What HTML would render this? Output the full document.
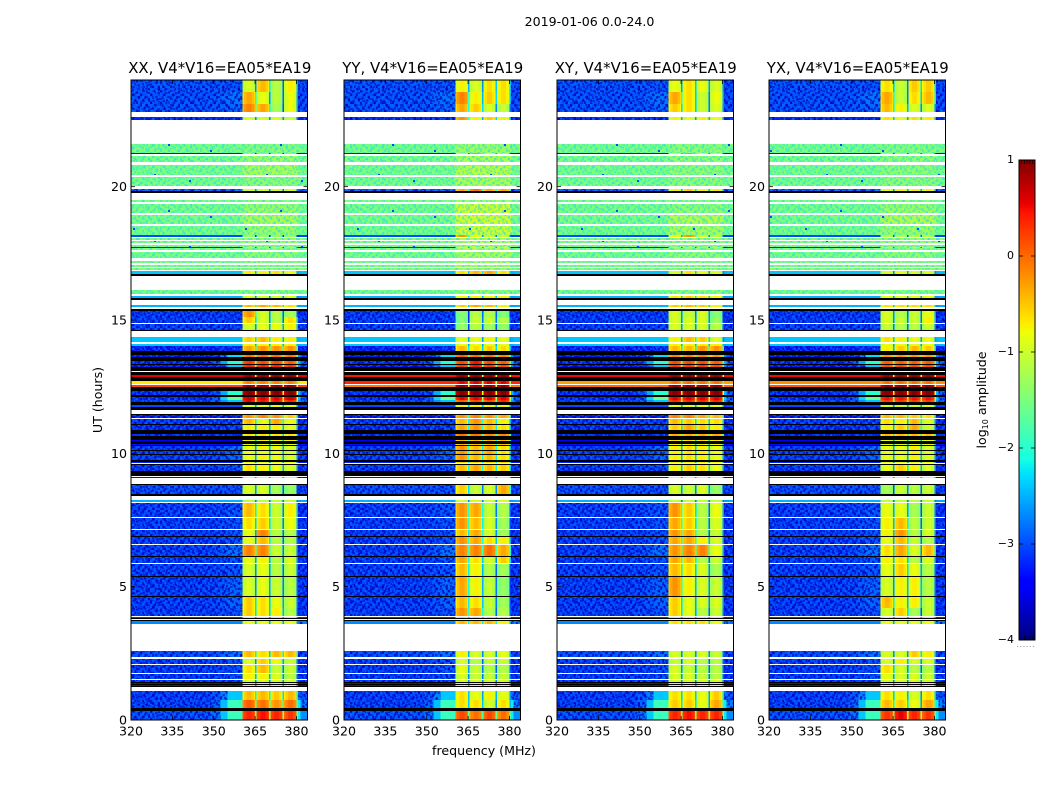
<!DOCTYPE html>
<html lang="en">
<head>
<meta charset="utf-8">
<title>2019-01-06 0.0-24.0</title>
<style>
html,body{margin:0;padding:0;background:#fff;}
svg{display:block;}
text{font-family:"DejaVu Sans","Liberation Sans",sans-serif;fill:#000;}
</style>
</head>
<body>
<svg id="figure" xmlns="http://www.w3.org/2000/svg" width="1050" height="800" viewBox="0 0 1050 800">
  <rect x="0" y="0" width="1050" height="800" fill="#fff"/>
  <defs id="defs"></defs>
  <text x="589.5" y="26" font-size="12.6" text-anchor="middle">2019-01-06 0.0-24.0</text>
  <text x="484" y="755" font-size="12.6" text-anchor="middle">frequency (MHz)</text>
  <text transform="translate(102,400) rotate(-90)" font-size="12.6" text-anchor="middle">UT (hours)</text>
  <text transform="translate(986,400) rotate(-90)" font-size="12.6" text-anchor="middle">log<tspan font-size="8" dy="2">10</tspan><tspan dy="-2"> amplitude</tspan></text>
</svg>
<script>
// ---------- chart data (hours UT, MHz, log10 amplitude) ----------
const panelTitles = ["XX, V4*V16=EA05*EA19","YY, V4*V16=EA05*EA19","XY, V4*V16=EA05*EA19","YX, V4*V16=EA05*EA19"];
const xTickValues = [320,335,350,365,380];
const yTickValues = [0,5,10,15,20];
const colorTickValues = [1,0,-1,-2,-3,-4];
const colorTickLabels = ["1","0","\u22121","\u22122","\u22123","\u22124"];

// spectral windows and per-window shape
const windowStarts = [360.5,365.5,370.5,375.5];
const windowBinEdges = [0,0.45,1.4,3.2,4.1,4.5,5];
const windowBinLevels = [-0.2,-0.05,0.08,-0.05,-0.2,-1.7];

// flagged (black) time ranges
const maskedHi = [19.84,16.73,15.83,15.40,14.63,13.84,13.60,13.35,13.23,13.05,
  12.87,12.50,12.18,11.93,11.75,11.46,11.10,10.88,10.65,10.45,
  10.31,10.13,9.98,9.75,9.60,9.34,8.85,8.49,6.90,6.15,
  5.40,4.65,3.81,3.74,1.43,1.35,1.28,0.45];
const maskedLo = [19.76,16.65,15.75,15.35,14.59,13.69,13.47,13.30,13.10,12.95,
  12.72,12.35,12.10,11.80,11.63,11.43,11.05,10.73,10.50,10.35,
  10.28,10.09,9.93,9.69,9.55,9.15,8.81,8.40,6.86,6.11,
  5.36,4.61,3.78,3.70,1.39,1.31,1.24,0.35];

// noisy green time ranges
const noisyHi = [21.60,21.16,20.81,20.36,19.50,19.35,18.94,18.53,18.08,17.96,17.82,17.70,17.55,17.22,17.06,16.94,16.13];
const noisyLo = [21.25,20.91,20.44,20.03,19.43,19.02,18.59,18.17,18.00,17.88,17.75,17.63,17.33,17.13,17.00,16.86,15.98];
const noisyOff = [-1.6,-1.6,-1.6,-1.6,-1.55,-1.6,-1.6,-1.6,-1.55,-1.55,-1.55,-1.55,-1.6,-1.55,-1.55,-1.45,-1.6];
const noisyInXX = [-1.5,-1.35,-1.25,-1.45,-1.5,-1.35,-1.25,-1.35,-1.45,-1.45,-1.45,-1.45,-1.45,-1.45,-1.45,-1.45,-1.5];
const noisyInYY = [-1.35,-1.25,-1.15,-1.25,-1.35,-1.0,-0.95,-1.0,-1.25,-1.25,-1.25,-1.15,-1.25,-1.25,-1.25,-1.35,-1.45];
const noisyInXY = [-1.45,-1.45,-1.45,-1.45,-1.5,-1.45,-1.2,-1.25,-1.45,-1.45,-1.45,-1.45,-1.45,-1.45,-1.45,-1.45,-1.5];
const noisyInYX = [-1.5,-1.45,-1.45,-1.45,-1.5,-1.35,-1.2,-1.35,-1.45,-1.45,-1.45,-1.45,-1.45,-1.45,-1.45,-1.45,-1.5];

// science time ranges
const sciHi = [24.00,23.55,23.10,22.63,21.25,19.91,18.17,17.75,16.84,15.90,
  15.57,15.35,15.13,14.85,14.35,14.10,14.04,13.69,13.47,13.30,
  12.95,12.72,12.55,12.35,12.10,12.00,11.80,11.43,11.28,11.05,
  10.73,10.50,10.35,10.28,10.09,9.93,9.69,9.55,9.11,8.81,
  8.25,8.12,7.59,7.13,6.86,6.56,6.11,5.86,5.36,4.61,
  4.20,3.86,3.70,2.59,2.30,2.06,1.73,1.49,1.39,1.31,
  1.09,0.75,0.35];
const sciLo = [23.55,23.10,22.80,22.50,21.21,19.84,18.13,17.70,16.73,15.83,
  15.47,15.13,14.90,14.63,14.16,14.04,13.84,13.60,13.35,13.23,
  12.87,12.60,12.50,12.18,12.00,11.93,11.75,11.31,11.10,10.88,
  10.65,10.45,10.31,10.13,9.98,9.75,9.65,9.34,9.08,8.49,
  8.18,7.62,7.15,6.90,6.60,6.15,5.90,5.40,4.65,4.20,
  3.90,3.81,3.59,2.37,2.11,1.76,1.54,1.43,1.35,1.28,
  0.75,0.45,0.00];
const sciOff = [-3.0,-3.0,-3.0,-3.2,-3.3,-2.8,-3.0,-3.2,-2.4,-2.5,
  -2.5,-3.1,-3.1,-3.1,-2.4,-2.4,-3.3,-3.3,-3.2,-3.3,
  0.55,-0.7,0.2,-3.2,-3.2,-3.0,-3.0,-3.3,-3.1,-3.2,
  -3.2,-3.4,-3.3,-3.1,-3.1,-3.1,-3.2,-3.1,-3.3,-3.0,
  -2.5,-3.1,-3.1,-3.1,-3.1,-3.1,-3.1,-3.1,-3.1,-3.1,
  -3.1,-3.1,-2.7,-3.0,-3.1,-3.1,-3.1,-3.1,-3.3,-3.3,
  -3.1,-3.1,-3.0];
const sciRamp = [-3.0,-2.8,-2.9,-3.2,-3.3,-2.8,-3.0,-3.2,-2.4,-2.5,
  -2.5,-3.1,-3.1,-3.1,-2.4,-2.4,-3.2,-2.3,-2.0,-2.4,
  0.55,-0.7,0.2,-2.0,-1.6,-2.4,-3.0,-3.3,-3.1,-3.1,
  -3.2,-3.4,-3.3,-2.8,-2.9,-2.9,-3.2,-3.0,-3.3,-3.0,
  -2.5,-3.0,-3.0,-3.0,-3.0,-2.8,-3.0,-3.0,-2.9,-2.9,
  -3.0,-3.1,-2.7,-2.8,-3.0,-3.0,-3.0,-3.1,-3.3,-3.3,
  -2.4,-1.9,-1.9];
const sciRight = [-3.1,-3.1,-3.1,-3.3,-3.4,-2.9,-3.1,-3.3,-2.5,-2.6,
  -2.6,-3.2,-3.2,-3.2,-2.5,-2.5,-3.3,-2.7,-2.5,-2.7,
  0.55,-0.7,0.2,-2.5,-2.4,-2.6,-3.1,-3.3,-3.2,-3.3,
  -3.3,-3.5,-3.4,-3.2,-3.2,-3.2,-3.3,-3.2,-3.4,-3.1,
  -2.6,-3.2,-3.2,-3.2,-3.2,-3.2,-3.2,-3.2,-3.2,-3.2,
  -3.2,-3.2,-2.8,-3.1,-3.2,-3.2,-3.2,-3.2,-3.4,-3.4,
  -2.8,-2.2,-2.2];

// window levels per science row; an optional 5th value overrides the off-band level
const windowsXX = [
 [-1,-.5,-1.2,-.8],[-.4,-.9,-1.2,-.9],[-.2,-.4,-1.3,-.9],[-1,-1,-1,-1.1],[-1.5,-1.5,-1.5,-1.5],
 [-1,-1,-1,-1],[-1.4,-1.4,-1.4,-1.4],[-1.2,-1.2,-1.2,-1.2],[-.8,-.8,-.7,-.9],[-1,-1,-1,-1],
 [-.5,-.4,-.5,-.7],[-.3,-1,-1.2,-1.3],[-.6,-1,-1.2,-.7],[-1,-.9,-.9,-.8],[-.6,-.5,-.8,-.8],
 [-.8,-.8,-.8,-.8],[-.4,-.3,-.3,-.3],[-.1,-.1,-.1,-.1],[.2,.1,.1,0],[.3,.3,.3,.2],
 [.85,.85,.85,.85],[-.2,-.2,-.2,-.2,-.7],[.85,.85,.85,.85],[.9,.9,.9,.9],[.6,.5,.5,.6],
 [.5,.4,.4,.3],[-.9,-.9,-.9,-.9],[-.3,-.2,-.3,-.6],[-.5,-.9,-.4,-.9],[-.8,-.8,-.8,-.9],
 [-.7,-.7,-.7,-.7],[-.8,-.8,-.8,-.8],[-.9,-.9,-.9,-.9],[-.9,-.8,-.9,-1],[-.9,-.9,-.9,-1],
 [-.9,-.8,-.9,-1],[-.9,-.9,-.9,-.9],[-.7,-.8,-.9,-1],[-.9,-.9,-.9,-.9],[-1,-1,-1.3,-1.4],
 [-1.1,-1.1,-1.1,-1.1],[-.5,-.7,-1.1,-.8],[-.7,-.6,-1.1,-.9],[-.9,-.2,-1.2,-1.2],[-.9,-.5,-1.2,-1.2],
 [-.2,-.2,-1.1,-1.1],[-.9,-.8,-1.2,-1],[-1,-.9,-1.2,-1.1],[-1,-.9,-1.1,-1.2],[-.6,-.7,-.9,-1.1],
 [-.6,-.7,-.8,-1.2],[-.9,-.9,-.9,-.9],[-.9,-.9,-.9,-.9],[-.5,-.7,-.5,-.5],[-1,-.6,-.9,-1.1],
 [-.7,-.5,-1.1,-1.1],[-.8,-.8,-1,-1.2],[-1,-1,-1,-1],[-.9,-.9,-.9,-.9],[-.9,-.9,-.9,-.9],
 [-.5,-.5,-.6,-.5],[0,-.1,-.3,-.1],[.3,.4,.3,.2]];
const windowsYY = [
 [-.8,-1,-.7,-.7],[-.2,-.8,-.6,-.7],[-.4,-.6,-1,-1.1],[-.3,-.8,-.6,-.8],[-1.2,-.3,-.9,-1.2],
 [-.4,-.1,-.4,-.4],[-.3,-.9,-1.1,-1.1],[-.9,-.9,-.9,-.9],[-.7,-.5,-.4,-.7],[-.8,-.8,-.8,-.8],
 [-.6,-.4,-.5,-.8],[-1.5,-1.2,-1.2,-1.5],[-1.5,-1.1,-1.1,-1.2],[-1.4,-1.2,-1.3,-1.4],[-.9,-.9,-.8,-.9],
 [-.9,-.9,-.9,-.9],[-.5,-.7,-.6,-.7],[0,-.1,-.1,-.2],[.1,.4,.1,0],[.2,.4,.2,.1],
 [.85,.85,.85,.85,.45],[.5,.5,.5,.5,.35],[.85,.85,.85,.85,-.1],[.9,.9,.9,.9],[.5,.5,.5,.5],
 [0,.1,.1,.3],[-.8,-.8,-.8,-.8],[-.3,-.2,-.3,-.4],[-.5,-.3,-.5,-.8],[-.4,-.3,-.5,-.7],
 [-.1,-.1,-.2,-.2],[-.5,-.5,-.5,-.5],[-.5,-.5,-.5,-.5],[-.3,-.5,-.4,-.7],[-.3,-.5,-.4,-.7],
 [-.3,-.5,-.5,-.7],[-.6,-.6,-.6,-.6],[-.5,-.4,-.5,-.6],[-.8,-.8,-.8,-.8],[-.6,-1.1,-1,-.4],
 [-1,-1,-1,-1],[-.3,-.4,-1.1,-1.2],[-.3,-.5,-1,-1.3],[-.5,-.4,-1,-1.3],[-.3,-.4,-.7,-.8],
 [-.2,-.2,-.1,-.4],[-.4,-.7,-1,-.6],[-.5,-.8,-1.2,-1.3],[-.4,-.8,-1.1,-1.4],[-.5,-.7,-1.1,-1.3],
 [-.3,-.4,-1.2,-1.2],[-.7,-.7,-.7,-.7],[-.5,-.5,-.5,-.8],[-.8,-1,-1,-.9],[-1,-1.2,-1.1,-1.1],
 [-.9,-1.1,-1.2,-1.2],[-1,-1.1,-1.1,-1.1],[-1,-1,-1,-1],[-.9,-.9,-.9,-.9],[-.9,-.9,-.9,-.9],
 [-.7,-.9,-.8,-.9],[-.7,-.7,-1,-.7],[.1,-.1,.1,-.1]];
const windowsXY = [
 [-.9,-.7,-.9,-1],[-.4,-.7,-1.1,-.9],[-.6,-.7,-1.1,-1],[-.8,-.9,-.8,-.9],[-.8,-.3,-1,-1.2],
 [-.8,-.6,-.8,-.8],[-.8,-.3,-1,-1.2],[-1.2,-1.2,-1.2,-1.2],[-1,-.7,-.9,-1],[-.7,-.6,-.7,-.8],
 [-.6,-.5,-.6,-.8],[-1,-1.1,-1,-1.5],[-1,-1,-1,-1.4],[-1,-1,-1,-1.2],[-.8,-.5,-.6,-1],
 [-.8,-.8,-.8,-.8],[-.5,-.5,-.3,-.3],[-.2,-.2,-.2,-.3],[.1,.1,.1,0],[.2,.2,.2,.1],
 [.85,.85,.85,.85,.5],[-.1,-.1,-.1,-.1,-.3],[.85,.85,.85,.85,0],[.9,.9,.9,.9],[.5,.5,.5,.5],
 [.3,.3,.3,.3],[-.9,-.9,-.9,-.9],[-.2,-.2,-.4,-.5],[-.5,-.6,-.7,-.7],[-.6,-.4,-.6,-.8],
 [-.4,-.4,-.4,-.4],[-.7,-.7,-.7,-.7],[-.8,-.8,-.8,-.8],[-.8,-.7,-.8,-.9],[-.8,-.7,-.8,-.9],
 [-.8,-.7,-.8,-.9],[-.8,-.8,-.8,-.8],[-.8,-.6,-.7,-.9],[-.9,-.9,-.9,-.9],[-1,-1.1,-1,-1.4],
 [-1.1,-1.1,-1.1,-1.1],[-.3,-.6,-1.2,-.9],[-.4,-.6,-1.2,-1],[-.3,-.4,-1.2,-1.1],[-.4,-.4,-.8,-1],
 [-.3,-.2,-.2,-.9],[-.4,-.5,-1.2,-1.1],[-.5,-.7,-1,-1.3],[-.3,-.8,-1,-1.1],[-.6,-.9,-1,-1],
 [-.6,-.9,-1.2,-1.1],[-.8,-.8,-.8,-.8],[-.7,-.7,-.7,-.9],[-1,-1,-1,-1.1],[-1.1,-1,-1.2,-1.2],
 [-1,-1.1,-1.2,-1.2],[-1,-1,-1.1,-1.2],[-1,-1,-1,-1],[-.9,-.9,-.9,-.9],[-.9,-.9,-.9,-.9],
 [-.7,-.7,-.9,-.6],[-.6,-.6,-.9,-.4],[.3,.4,.3,.3]];
const windowsYX = [
 [-.7,-1.1,-.6,-.6],[-.4,-1.1,-.7,-.5],[-.5,-.8,-1,-1],[-.7,-.9,-.7,-.8],[-1.3,-1.3,-1.3,-1.3],
 [-.9,-.8,-.8,-.8],[-1.2,-1.2,-1.2,-1.2],[-1.1,-.6,-1.1,-1.1],[-1,-.9,-1,-1],[-.9,-.9,-.9,-.9],
 [-.7,-.7,-.7,-.7],[-1,-1.2,-1.1,-.9],[-1,-1.1,-1.1,-.8],[-1.1,-1.2,-1.2,-1.1],[-.7,-.8,-.9,-.9],
 [-.9,-.9,-.9,-.9],[-.8,-.6,-.5,-.6],[-.3,-.3,-.3,-.3],[0,0,0,0],[.1,.1,.1,.1],
 [.85,.85,.85,.85,.5],[-.1,-.1,-.1,-.1,-.2],[.85,.85,.85,.85,.1],[.9,.9,.9,.9],[.4,.4,.4,.4],
 [.2,.2,.2,.2],[-1,-1,-1,-1],[-.5,-.5,-.6,-.7],[-.7,-.8,-.5,-1],[-.8,-.6,-.4,-1.1],
 [-.5,-.5,-.5,-.5],[-.9,-.9,-.9,-.9],[-.9,-.9,-.9,-.9],[-.9,-.9,-.8,-1],[-.9,-.9,-.8,-1],
 [-.9,-.9,-.8,-1],[-.9,-.9,-.9,-.9],[-.9,-.6,-.8,-1],[-.9,-.9,-.9,-.9],[-1.3,-1.1,-1.2,-1.1],
 [-1.1,-1.1,-1.1,-1.1],[-.9,-.9,-1.3,-1.1],[-.8,-.5,-1.2,-1.1],[-.8,-.3,-1.2,-1],[-.9,-.5,-1.1,-1.2],
 [-.7,-.4,-1,-.5],[-.8,-.7,-1.2,-1],[-.9,-.6,-.9,-1.2],[-1,-.8,-.8,-1.2],[-.5,-.8,-.8,-1.1],
 [-1,-.6,-1.3,-1.1],[-.9,-.9,-.9,-.9],[-.9,-.9,-.9,-.9],[-1,-1,-.6,-.8],[-1,-.8,-1,-1],
 [-.7,-1,-1.2,-1.2],[-.9,-1,-1,-1.1],[-1,-1,-1,-1],[-.9,-.9,-.9,-.9],[-.9,-.9,-.9,-.9],
 [-.7,-.8,-1,-.7],[-.5,-.6,-.9,-.4],[.2,.5,.3,.2]];

// fine pixel grain laid over noisy regions (-1 dim, 1 bright, 2 outlier), 16 columns by 11 rows
const grainTile = [
  0,1,-1,0,0,1,0,-1,1,0,-1,0,1,0,0,-1,
  -1,0,0,1,-1,0,1,0,0,-1,0,1,0,-1,1,0,
  1,0,-1,0,1,0,-1,0,2,0,1,-1,0,1,0,-1,
  0,-1,1,0,0,-1,0,1,-1,0,0,1,-1,0,2,1,
  0,1,0,-1,1,0,0,-1,0,1,-1,0,0,1,-1,0,
  -1,0,1,2,-1,1,0,0,1,0,0,-1,1,0,0,-1,
  1,-1,0,0,1,0,-1,1,0,-1,1,0,0,-1,1,0,
  0,0,-1,1,0,-1,2,0,-1,0,0,1,-1,0,0,1,
  -1,1,0,0,-1,0,1,0,0,1,-1,2,1,0,-1,0,
  0,0,1,-1,0,1,0,-1,1,0,0,-1,0,1,0,1,
  1,-1,0,1,0,-1,0,1,0,-1,1,0,-1,0,1,-1];

// ---------- layout ----------
const svg = document.getElementById('figure');
const defs = document.getElementById('defs');
const NS = 'http://www.w3.org/2000/svg';
const panelLefts = [131,344,557,769];
const panelWidth = 176.5;
const plotTop = 80, plotBottom = 720;
const freqMin = 320, freqMax = 384;
const hourMin = 0, hourMax = 24;
const cbarLeft = 1019, cbarRight = 1035, cbarTop = 160, cbarBottom = 640;
const colorMin = -4, colorMax = 1;

function xScale(panel, f){ return panelLefts[panel] + (f - freqMin) / (freqMax - freqMin) * panelWidth; }
function yScale(h){ return plotBottom - (h - hourMin) / (hourMax - hourMin) * (plotBottom - plotTop); }
function cScale(v){ return cbarBottom - (v - colorMin) / (colorMax - colorMin) * (cbarBottom - cbarTop); }

function ramp(t, pts){
  for (let i = 1; i < pts.length; i++) {
    if (t <= pts[i][0]) {
      const a = pts[i-1], b = pts[i];
      return a[1] + (b[1]-a[1]) * (t-a[0]) / (b[0]-a[0]);
    }
  }
  return pts[pts.length-1][1];
}
const jetR = [[0,0],[0.35,0],[0.66,1],[0.89,1],[1,0.5]];
const jetG = [[0,0],[0.125,0],[0.375,1],[0.64,1],[0.91,0],[1,0]];
const jetB = [[0,0.5],[0.11,1],[0.34,1],[0.65,0],[1,0]];
function jet(v){
  const t = Math.max(0, Math.min(1, (v - colorMin) / (colorMax - colorMin)));
  return 'rgb(' + Math.round(ramp(t,jetR)*255) + ',' + Math.round(ramp(t,jetG)*255) + ',' + Math.round(ramp(t,jetB)*255) + ')';
}

function el(parent, tag, attrs){
  const e = document.createElementNS(NS, tag);
  for (const k in attrs) e.setAttribute(k, attrs[k]);
  parent.appendChild(e);
  return e;
}

// ---------- grain patterns ----------
function buildGrain(id, cellW, cellH, stepX, stepY, dim, bright, dot){
  const p = el(defs, 'pattern', {id:id, patternUnits:'userSpaceOnUse', width:16*stepX, height:11*stepY});
  
  
  grainTile.forEach(function(g, i){
    const c = i % 16, r = Math.floor(i / 16);
    const fill = g === -1 ? dim : (g === 1 ? bright : (g === 2 ? dot : null));
    if (!fill) return;
    const cell = el(p, 'rect', {x:c*stepX, y:r*stepY, width:cellW, height:cellH, fill:fill});
    
    
  });
}
buildGrain('grain-low-a', 2, 2.67, 2, 2.67, 'rgba(0,0,170,0.7)', 'rgba(0,110,255,0.5)', null);
buildGrain('grain-low-b', 2.5, 2, 2.5, 2, 'rgba(0,0,190,0.5)', 'rgba(0,130,255,0.35)', null);
buildGrain('grain-mid-a', 2, 2.67, 2, 2.67, 'rgba(40,225,215,0.5)', 'rgba(190,255,70,0.32)', null);
buildGrain('grain-mid-b', 2.5, 2, 2.5, 2, 'rgba(40,215,230,0.36)', 'rgba(190,255,70,0.24)', null);
buildGrain('grain-mid-dots', 2, 2, 7, 6, null, null, 'rgba(0,70,255,0.95)');

function addGrain(group, panel, f0, f1, hi, lo, ids){
  ids.forEach(function(id){
    const n = cell(group, panel, f0, f1, hi, lo, 'url(#' + id + ')');
    
    
  });
}

// ---------- panels ----------
const allWindows = [windowsXX, windowsYY, windowsXY, windowsYX];
const allNoisyIn = [noisyInXX, noisyInYY, noisyInXY, noisyInYX];
const panelKeys = ['xx','yy','xy','yx'];

function cell(group, panel, f0, f1, hi, lo, fill){
  const x0 = xScale(panel, f0), x1 = xScale(panel, f1);
  const y0 = Math.round(yScale(hi)), y1 = Math.round(yScale(lo));
  return el(group, 'rect', {x:x0.toFixed(2), y:y0, width:(x1-x0).toFixed(2), height:Math.max(1, y1-y0), fill:fill, 'shape-rendering':'crispEdges'});
}

panelTitles.forEach(function(title, p){
  const key = panelKeys[p];
  const left = panelLefts[p];
  const g = el(svg, 'g', {});
  
  

  const heat = el(g, 'g', {});
  
  

  // science rows
  sciHi.forEach(function(hi, i){
    const lo = sciLo[i];
    const win = allWindows[p][i];
    const hasOverride = win.length > 4;
    const off = hasOverride ? win[4] : sciOff[i];
    const rampLevel = hasOverride ? off : sciRamp[i];
    const right = hasOverride ? off : sciRight[i];
    const offCols = [
      [freqMin, 349, off],
      [349, 352.5, off + 0.15 * (rampLevel - off)],
      [352.5, 355, off + 0.55 * (rampLevel - off)],
      [355, windowStarts[0], rampLevel],
      [windowStarts[3] + 5, 381.5, right],
      [381.5, freqMax, right + 0.6 * (off - right)]
    ];
    offCols.forEach(function(c){
      const r = cell(heat, p, c[0], c[1], hi, lo, jet(c[2]));
      
      
      if (c[2] < -2.7 && yScale(lo) - yScale(hi) > 1.5) {
        addGrain(heat, p, c[0], c[1], hi, lo, ['grain-low-a','grain-low-b']);
      }
    });
    windowStarts.forEach(function(start, w){
      windowBinLevels.forEach(function(delta, b){
        const r = cell(heat, p, start + windowBinEdges[b], start + windowBinEdges[b+1], hi, lo, jet(win[w] + delta));
        
        
      });
    });
  });

  // noisy rows
  noisyHi.forEach(function(hi, i){
    const lo = noisyLo[i];
    const offA = cell(heat, p, freqMin, windowStarts[0], hi, lo, jet(noisyOff[i]));
    
    
    const inB = cell(heat, p, windowStarts[0], windowStarts[3] + 5, hi, lo, jet(allNoisyIn[p][i]));
    
    
    const offC = cell(heat, p, windowStarts[3] + 5, freqMax, hi, lo, jet(noisyOff[i]));
    
    
    addGrain(heat, p, freqMin, freqMax, hi, lo, ['grain-mid-a','grain-mid-b','grain-mid-dots']);
  });

  // flagged rows
  maskedHi.forEach(function(hi, i){
    const r = cell(heat, p, freqMin, freqMax, hi, maskedLo[i], '#000');
    
    
  });

  // frame
  const frame = el(g, 'rect', {x:left, y:plotTop, width:panelWidth, height:plotBottom-plotTop, fill:'none', stroke:'#000', 'stroke-width':1});
  
  

  // title
  const t = el(g, 'text', {x:left + panelWidth/2 + 0.5, y:73, 'font-size':14.9, 'text-anchor':'middle'});
  t.textContent = title;
  
  

  // x ticks
  xTickValues.forEach(function(v){
    const x = xScale(p, v);
    const a = el(g, 'line', {x1:x, x2:x, y1:plotBottom, y2:plotBottom-4, stroke:'#000', 'stroke-width':0.8});
    
    
    const b = el(g, 'line', {x1:x, x2:x, y1:plotTop, y2:plotTop+4, stroke:'#000', 'stroke-width':0.8});
    
    
    const l = el(g, 'text', {x:x, y:plotBottom+15.5, 'font-size':12.6, 'text-anchor':'middle'});
    l.textContent = String(v);
    
    
  });

  // y ticks
  yTickValues.forEach(function(v){
    const y = yScale(v);
    const a = el(g, 'line', {x1:left, x2:left+4, y1:y, y2:y, stroke:'#000', 'stroke-width':0.8});
    
    
    const b = el(g, 'line', {x1:left+panelWidth-4, x2:left+panelWidth, y1:y, y2:y, stroke:'#000', 'stroke-width':0.8});
    
    
    const l = el(g, 'text', {x:left-4, y:y+4.5, 'font-size':12.6, 'text-anchor':'end'});
    l.textContent = String(v);
    
    
  });
});

// ---------- colorbar ----------
const cb = el(svg, 'g', {});


for (let y = cbarTop; y < cbarBottom; y += 2) {
  const v = colorMax - (y + 1 - cbarTop) / (cbarBottom - cbarTop) * (colorMax - colorMin);
  const s = el(cb, 'rect', {x:cbarLeft, y:y, width:cbarRight-cbarLeft, height:2, fill:jet(v), 'shape-rendering':'crispEdges'});
  
  
}
const cbFrame = el(cb, 'rect', {x:cbarLeft, y:cbarTop, width:cbarRight-cbarLeft, height:cbarBottom-cbarTop, fill:'none', stroke:'#000', 'stroke-width':1});


colorTickValues.forEach(function(v, i){
  const y = cScale(v);
  const a = el(cb, 'line', {x1:cbarLeft, x2:cbarLeft+4, y1:y, y2:y, stroke:'#000', 'stroke-width':0.8});
  
  
  const b = el(cb, 'line', {x1:cbarRight-4, x2:cbarRight, y1:y, y2:y, stroke:'#000', 'stroke-width':0.8});
  
  
  const l = el(cb, 'text', {x:cbarLeft-5, y:y+3, 'font-size':11, 'text-anchor':'end'});
  l.textContent = colorTickLabels[i];
  
  
});
for (let k = 0; k < 5; k++) {
  const x = cbarLeft + 2.5 + k * 2.8;
  const a = el(cb, 'line', {x1:x, x2:x, y1:cbarTop, y2:cbarTop+4, stroke:'#000', 'stroke-width':0.7});
  
  
  const b = el(cb, 'line', {x1:x, x2:x, y1:cbarBottom-4, y2:cbarBottom, stroke:'#000', 'stroke-width':0.7});
  
  
}
for (let k = 0; k < 6; k++) {
  const d = el(cb, 'rect', {x:cbarLeft - 2 + k * 3.2, y:646, width:1, height:1, fill:'#999'});
  
  
}
</script>
</body>
</html>
